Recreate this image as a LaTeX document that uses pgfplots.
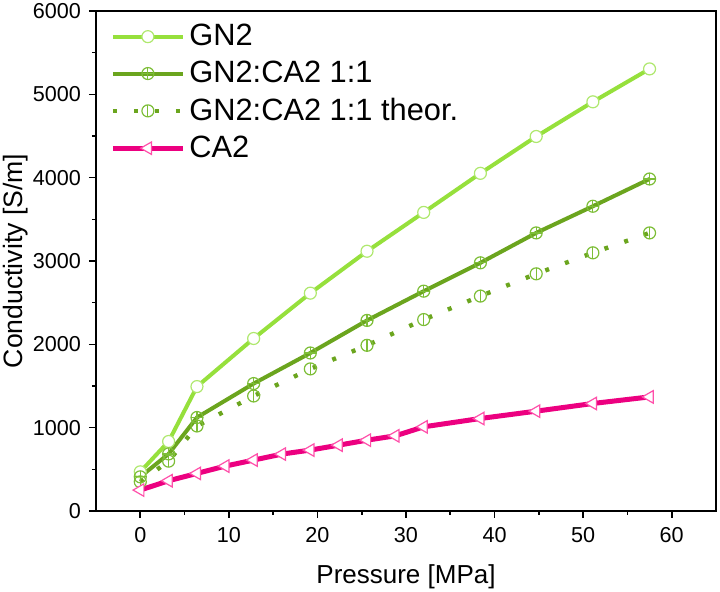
\documentclass[border=0pt]{standalone}
\usepackage{pgfplots}
\pgfplotsset{compat=1.18}
\usepackage{fontspec}
\setmainfont{Liberation Sans}
\definecolor{gnline}{RGB}{150,224,60}
\definecolor{gnmark}{RGB}{175,232,110}
\definecolor{mixline}{RGB}{107,165,30}
\definecolor{mixmark}{RGB}{125,190,55}
\definecolor{caline}{RGB}{236,0,128}
\definecolor{camark}{RGB}{255,80,170}
\pgfdeclareplotmark{ovl}{%
  \pgfpathcircle{\pgfpointorigin}{\pgfplotmarksize}\pgfusepathqstroke
  \pgfpathmoveto{\pgfqpoint{0pt}{-\pgfplotmarksize}}\pgfpathlineto{\pgfqpoint{0pt}{\pgfplotmarksize}}\pgfusepathqstroke}
\pgfdeclareplotmark{opl}{%
  \pgfpathcircle{\pgfpointorigin}{\pgfplotmarksize}\pgfusepathqstroke
  \pgfpathmoveto{\pgfqpoint{0pt}{-\pgfplotmarksize}}\pgfpathlineto{\pgfqpoint{0pt}{\pgfplotmarksize}}
  \pgfpathmoveto{\pgfqpoint{-\pgfplotmarksize}{0pt}}\pgfpathlineto{\pgfqpoint{\pgfplotmarksize}{0pt}}\pgfusepathqstroke}
\begin{document}
\begin{tikzpicture}
\begin{axis}[
  at={(0,0)}, anchor=south west,
  width=310pt, height=250pt, scale only axis,
  xmin=-5, xmax=65, ymin=0, ymax=6000,
  xtick={0,10,...,60}, ytick={0,1000,...,6000},
  minor x tick num=1, minor y tick num=1,
  tick align=outside, major tick length=3.5pt, minor tick length=2pt,
  xtick pos=bottom, ytick pos=left,
  axis line style={line width=0.8pt},
  every tick/.style={black, line width=0.8pt},
  /pgf/number format/assume math mode=true,
  /pgf/number format/1000 sep={},
  ticklabel style={font=\fontsize{10.8}{12}\selectfont},
  xticklabel style={yshift=-1pt},
  yticklabel style={xshift=-0.5pt},
  xlabel={Pressure [MPa]}, ylabel={Conductivity [S/m]},
  xlabel style={font=\fontsize{13}{15}\selectfont, at={(axis description cs:0.5,0)}, anchor=center, yshift=-33pt},
  ylabel style={font=\fontsize{13.3}{15}\selectfont, at={(axis description cs:0,0.5)}, anchor=center, yshift=40pt},
  legend cell align=left,
  legend style={draw=none, fill=none, at={(axis description cs:0,1)}, anchor=north west,
    xshift=4pt, yshift=-2.5pt, font=\fontsize{15.4}{18}\selectfont, row sep=2.2pt,
    /tikz/every even column/.append style={column sep=0pt}},
  legend image code/.code={\draw[mark repeat=2,mark phase=2,#1] plot coordinates {(0pt,0pt) (17.5pt,0pt) (35pt,0pt)};},
]
\addplot[color=gnline, line width=2pt, mark=*, mark size=3pt,
  mark options={draw=gnmark, fill=white, line width=0.6pt, solid}]
  coordinates {(0,470) (3.2,834) (6.4,1493) (12.8,2070) (19.2,2614) (25.6,3117) (32,3583) (38.4,4052) (44.7,4494) (51.1,4910) (57.5,5305)};
\addlegendentry{GN2}
\addplot[color=mixline, line width=2pt, mark=opl, mark size=3pt,
  mark options={draw=mixmark, line width=0.6pt, solid}]
  coordinates {(0,410) (3.2,685) (6.4,1122) (12.8,1529) (19.2,1896) (25.6,2287) (32,2638) (38.4,2978) (44.7,3337) (51.1,3657) (57.5,3984)};
\addlegendentry{GN2:CA2 1:1}
\addplot[color=mixline, line width=2.2pt, dash pattern=on 2pt off 8.5pt, mark=ovl, mark size=3pt,
  mark options={draw=mixmark, line width=0.6pt, solid}]
  coordinates {(0,350) (3.2,598) (6.4,1020) (12.8,1380) (19.2,1705) (25.6,1988) (32,2297) (38.4,2579) (44.7,2846) (51.1,3098) (57.5,3337)};
\addlegendentry{GN2:CA2 1:1 theor.}
\addplot[color=caline, line width=2.5pt, mark=triangle*, mark size=3.6pt,
  mark options={draw=camark, fill=white, line width=0.6pt, rotate=90, solid}]
  coordinates {(0,251) (3.2,363) (6.4,451) (9.6,539) (12.8,611) (16,683) (19.2,731) (22.4,790) (25.6,850) (28.8,902) (32,1010) (38.4,1110) (44.7,1198) (51.1,1290) (57.5,1369)};
\addlegendentry{CA2}
\end{axis}
\pgfresetboundingbox
\path (-48pt,-40.5pt) rectangle (312pt,255.5pt);
\end{tikzpicture}
\end{document}
